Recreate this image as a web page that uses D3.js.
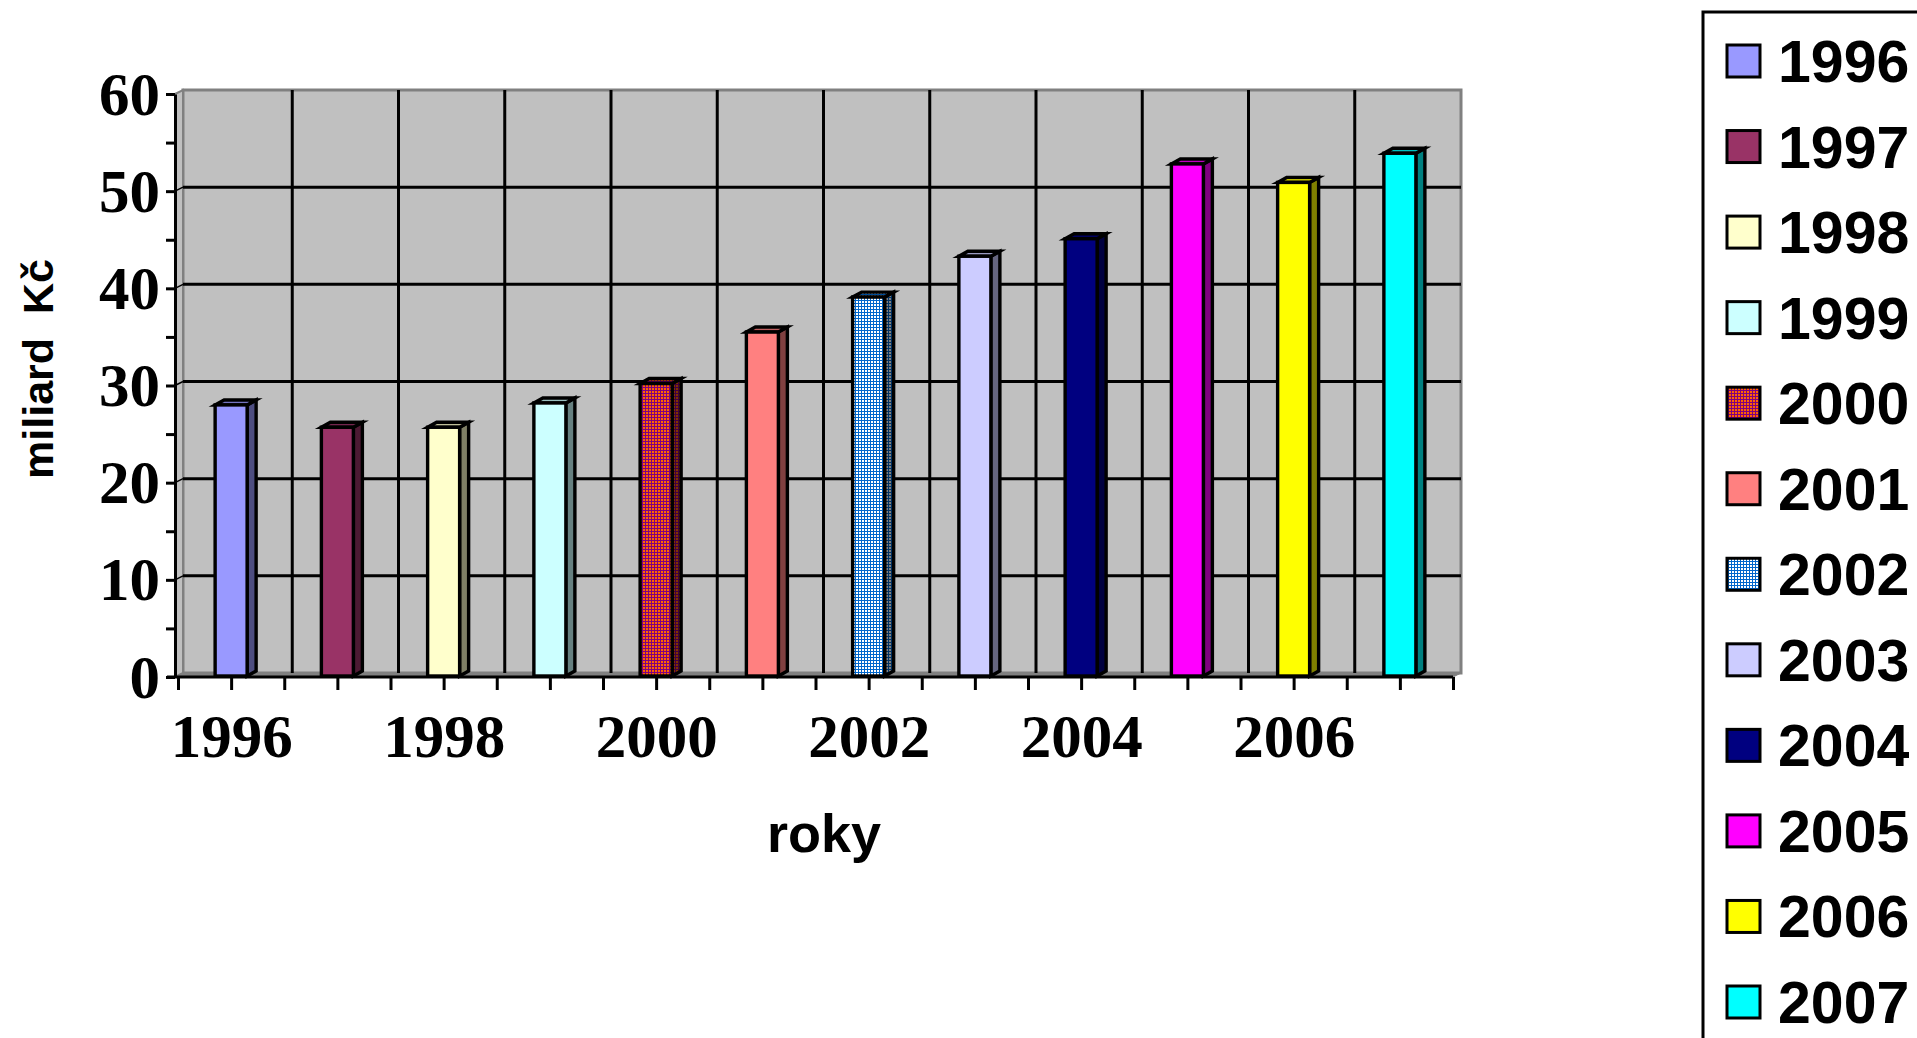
<!DOCTYPE html>
<html>
<head>
<meta charset="utf-8">
<script src="https://cdn.jsdelivr.net/npm/d3@7"></script>
<style>
  html, body { margin: 0; padding: 0; background: #ffffff; }
  svg { display: block; }
</style>
</head>
<body>
<svg id="chart" width="1917" height="1038"></svg>
<script>
// ---- data ----
const years = ["1996","1997","1998","1999","2000","2001","2002","2003","2004","2005","2006","2007"];
const values = [28.0, 25.7, 25.7, 28.2, 30.2, 35.5, 39.1, 43.3, 45.1, 52.8, 50.9, 53.9];
const colors = ["#9999FF","#993366","#FFFFCC","#CCFFFF","#FF6600","#FF8080","#FFFFFF","#CCCCFF","#000080","#FF00FF","#FFFF00","#00FFFF"];
const patternInk = [null,null,null,null,"#800080",null,"#0066CC",null,null,null,null,null];
const yTickValues = [0,5,10,15,20,25,30,35,40,45,50,55,60];
const yLabelValues = [0,10,20,30,40,50,60];
const xLabelYears = ["1996","1998","2000","2002","2004","2006"];
const yTitle = "miliard  Kč";
const xTitle = "roky";

// ---- layout ----
const svg = d3.select("#chart");
const front = {left: 178, right: 1453, top: 94, bottom: 677};
const depth = {dx: 8, dy: -4};
const barDepth = {dx: 9, dy: -5};
const serif = "'Liberation Serif', 'Times New Roman', serif";
const sans = "'Liberation Sans', Arial, sans-serif";

const x = d3.scaleLinear().domain([0, years.length]).range([front.left, front.right]);
const y = d3.scaleLinear().domain([0, 60]).range([front.bottom, front.top]);

// ---- patterns ----
const defs = svg.append("defs");
function shade(c, k) {
  const col = d3.rgb(c);
  return d3.rgb(col.r * k, col.g * k, col.b * k).formatHex();
}
function makePattern(id, bg, ink) {
  const p = defs.append("pattern").attr("id", id).attr("patternUnits", "userSpaceOnUse")
    .attr("width", 3).attr("height", 3);
  p.append("rect").attr("width", 3).attr("height", 3).attr("fill", bg);
  p.append("rect").attr("x", 0).attr("y", 0).attr("width", 3).attr("height", 1).attr("fill", ink);
  p.append("rect").attr("x", 0).attr("y", 0).attr("width", 1).attr("height", 3).attr("fill", ink);
}
function fillFor(i, k, tag) {
  if (!patternInk[i]) return shade(colors[i], k);
  const id = "pat" + years[i] + tag;
  if (defs.select("#" + id).empty()) makePattern(id, shade(colors[i], k), shade(patternInk[i], k));
  return "url(#" + id + ")";
}

// ---- walls ----
const lx = front.left - 3;
const back = {left: lx + depth.dx, right: front.right + depth.dx, top: front.top + depth.dy, bottom: front.bottom + depth.dy};
svg.append("rect")
  .attr("x", back.left).attr("y", back.top)
  .attr("width", back.right - back.left).attr("height", back.bottom - back.top)
  .attr("fill", "#C0C0C0").attr("stroke", "#808080").attr("stroke-width", 3);
svg.append("path")
  .attr("d", `M${lx},${front.top} L${back.left},${back.top} L${back.left},${back.bottom} L${lx},${front.bottom} Z`)
  .attr("fill", "#C0C0C0").attr("stroke", "#808080").attr("stroke-width", 2);
svg.append("path")
  .attr("d", `M${lx},${front.bottom} L${back.left},${back.bottom} L${back.right},${back.bottom} L${front.right},${front.bottom} Z`)
  .attr("fill", "#808080").attr("stroke", "#808080").attr("stroke-width", 1);

// gridlines
const grid = svg.append("g").attr("stroke", "#000").attr("stroke-width", 3);
grid.selectAll("line.h").data(yLabelValues.filter(v => v > 0 && v < 60)).enter().append("line")
  .attr("x1", back.left).attr("x2", back.right)
  .attr("y1", d => y(d) + depth.dy).attr("y2", d => y(d) + depth.dy);
grid.selectAll("line.v").data(d3.range(1, years.length)).enter().append("line")
  .attr("x1", d => x(d) + depth.dx).attr("x2", d => x(d) + depth.dx)
  .attr("y1", back.top).attr("y2", back.bottom);
grid.selectAll("line.s").data(yLabelValues.filter(v => v > 0 && v < 60)).enter().append("line")
  .attr("x1", lx).attr("x2", back.left)
  .attr("y1", d => y(d)).attr("y2", d => y(d) + depth.dy)
  .attr("stroke-width", 1.5);

// ---- bars ----
const barW = 32;
const bars = svg.append("g").attr("stroke", "#000").attr("stroke-width", 3.4).attr("stroke-linejoin", "miter");
years.forEach((yr, i) => {
  const cx = x(i + 0.5);
  const x0 = cx - barW / 2, x1 = cx + barW / 2;
  const yt = y(values[i]), yb = y(0) - 1;
  const g = bars.append("g");
  g.append("path")
    .attr("d", `M${x1},${yt} L${x1 + barDepth.dx},${yt + barDepth.dy} L${x1 + barDepth.dx},${yb + barDepth.dy} L${x1},${yb} Z`)
    .attr("fill", fillFor(i, 0.5, "s"));
  g.append("path")
    .attr("d", `M${x0},${yt} L${x0 + barDepth.dx},${yt + barDepth.dy} L${x1 + barDepth.dx},${yt + barDepth.dy} L${x1},${yt} Z`)
    .attr("fill", fillFor(i, 0.75, "t"));
  g.append("rect")
    .attr("x", x0).attr("y", yt).attr("width", barW).attr("height", yb - yt)
    .attr("fill", fillFor(i, 1, "f"));
});

// ---- axes ----
const yAxis = d3.axisLeft(y).tickValues(yTickValues).tickSizeInner(9).tickSizeOuter(0)
  .tickFormat(d => yLabelValues.includes(d) ? d : "");
const yg = svg.append("g").attr("transform", `translate(${lx},0)`).call(yAxis);
yg.select(".domain").attr("stroke", "#000").attr("stroke-width", 3);
yg.selectAll(".tick line").attr("stroke", "#000").attr("stroke-width", 3);
yg.selectAll(".tick text").attr("font-family", serif).attr("font-weight", "bold")
  .attr("font-size", 61).attr("fill", "#000").attr("x", -15).attr("dy", "0.33em");

const xTickVals = d3.range(0, years.length + 0.01, 0.5);
const xAxis = d3.axisBottom(x).tickValues(xTickVals).tickSizeInner(13).tickSizeOuter(0)
  .tickFormat(d => {
    if (d % 1 === 0) return "";
    const yr = years[Math.floor(d)];
    return xLabelYears.includes(yr) ? yr : "";
  });
const xg = svg.append("g").attr("transform", `translate(0,${front.bottom})`).call(xAxis);
xg.select(".domain").attr("stroke", "#000").attr("stroke-width", 3).attr("d", `M${front.left - 11},0H${front.right}`);
xg.selectAll(".tick line").attr("stroke", "#000").attr("stroke-width", 3);
xg.selectAll(".tick text").attr("font-family", serif).attr("font-weight", "bold")
  .attr("font-size", 61).attr("fill", "#000").attr("y", 0).attr("dy", 0)
  .attr("transform", "translate(0,80)");

// ---- axis titles ----
svg.append("text").attr("transform", "translate(53,369) rotate(-90)")
  .attr("text-anchor", "middle").attr("font-family", sans).attr("font-weight", "bold")
  .attr("font-size", 43).attr("fill", "#000").style("white-space", "pre").text(yTitle);
svg.append("text").attr("x", 824).attr("y", 852)
  .attr("text-anchor", "middle").attr("font-family", sans).attr("font-weight", "bold")
  .attr("font-size", 54).attr("fill", "#000").text(xTitle);

// ---- legend ----
const legend = svg.append("g");
legend.append("rect").attr("x", 1703).attr("y", 12).attr("width", 400).attr("height", 1100)
  .attr("fill", "#fff").attr("stroke", "#000").attr("stroke-width", 3);
const ly = d3.scalePoint().domain(years).range([61, 1002]);
years.forEach((yr, i) => {
  legend.append("rect").attr("x", 1727).attr("y", ly(yr) - 16).attr("width", 33).attr("height", 32)
    .attr("fill", fillFor(i, 1, "f")).attr("stroke", "#000").attr("stroke-width", 3);
  legend.append("text").attr("x", 1778).attr("y", ly(yr) + 21)
    .attr("font-family", sans).attr("font-weight", "bold").attr("font-size", 59)
    .attr("fill", "#000").text(yr);
});
</script>
</body>
</html>
